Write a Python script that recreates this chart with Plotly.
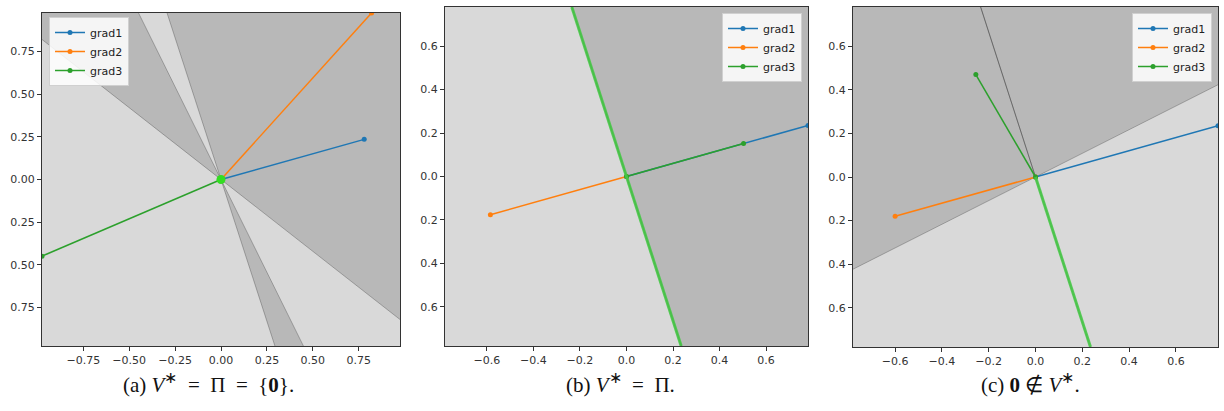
import plotly.graph_objects as go

# Gradient vectors drawn in each panel (x, y)
grad1_a = [0.78, 0.235]
grad2_a = [0.82, 0.975]
grad3_a = [-0.975, -0.449]

grad1_b = [0.78, 0.235]
grad2_b = [-0.585, -0.176]
grad3_b = [0.503, 0.152]

grad1_c = [0.78, 0.235]
grad2_c = [-0.6, -0.18]
grad3_c = [-0.255, 0.47]

# The set V* highlighted in each panel
vstar_a_x = [0.0]
vstar_a_y = [0.0]
vstar_b_x = [-0.235, 0.235]
vstar_b_y = [0.78, -0.78]
vstar_c_x = [0.0, 0.235]
vstar_c_y = [0.0, -0.78]

# Axis half-widths and tick labels
axis_lim = [0.975, 0.78, 0.78]
ticks_a = [-0.75, -0.5, -0.25, 0.0, 0.25, 0.5, 0.75]
xlabels_a = ["\u22120.75", "\u22120.50", "\u22120.25", "0.00", "0.25", "0.50", "0.75"]
ylabels_a = ["0.75", "0.50", "0.25", "0.00", "0.25", "0.50", "0.75"]
ticks_bc = [-0.6, -0.4, -0.2, 0.0, 0.2, 0.4, 0.6]
xlabels_bc = ["\u22120.6", "\u22120.4", "\u22120.2", "0.0", "0.2", "0.4", "0.6"]
ylabels_bc = ["0.6", "0.4", "0.2", "0.0", "0.2", "0.4", "0.6"]

STAR = "<sup><span style='font-size:16px'>\u2217</span></sup>"
EQ = "\u2002=\u2002"
captions = [
    "(a) <i>V</i>" + STAR + EQ + "\u03a0" + EQ + "{<b>0</b>}.",
    "(b) <i>V</i>" + STAR + EQ + "\u03a0.",
    "(c) <b>0</b> \u2209 <i>V</i>" + STAR + ".",
]

series_names = ["grad1", "grad2", "grad3"]
series_colors = ["#1f77b4", "#ff7f0e", "#2ca02c"]

W, H = 1224, 411
# pixel boxes of the three axes: (left, right, top, bottom)
boxes = [(42, 400, 13, 346), (445, 808, 7, 346), (853, 1218, 7, 347)]


def half_plane(g, box=3.0):
    """Polygon of {v : <g, v> >= 0} clipped to a square of half-width box."""
    corners = [(-box, -box), (box, -box), (box, box), (-box, box)]
    pts = []
    for i in range(4):
        p, q = corners[i], corners[(i + 1) % 4]
        dp = g[0] * p[0] + g[1] * p[1]
        dq = g[0] * q[0] + g[1] * q[1]
        if dp >= 0:
            pts.append(p)
        if (dp >= 0) != (dq >= 0):
            t = dp / (dp - dq)
            pts.append((p[0] + t * (q[0] - p[0]), p[1] + t * (q[1] - p[1])))
    pts.append(pts[0])
    return [p[0] for p in pts], [p[1] for p in pts]


panels = [
    ([grad1_a, grad2_a, grad3_a], (vstar_a_x, vstar_a_y)),
    ([grad1_b, grad2_b, grad3_b], (vstar_b_x, vstar_b_y)),
    ([grad1_c, grad2_c, grad3_c], (vstar_c_x, vstar_c_y)),
]
legend_ids = ["legend", "legend2", "legend3"]

fig = go.Figure()

for k, (grads, vstar) in enumerate(panels):
    xa = "x" if k == 0 else f"x{k + 1}"
    ya = "y" if k == 0 else f"y{k + 1}"
    # shaded half-planes, one per gradient
    for g in grads:
        px, py = half_plane(g)
        fig.add_trace(go.Scatter(
            x=px, y=py, mode="lines", fill="toself",
            fillcolor="rgba(0,0,0,0.15)",
            line=dict(color="rgba(40,40,40,0.3)", width=1),
            hoverinfo="skip", showlegend=False, xaxis=xa, yaxis=ya))
    # gradient segments from the origin
    for g, name, col in zip(grads, series_names, series_colors):
        fig.add_trace(go.Scatter(
            x=[0, g[0]], y=[0, g[1]], mode="lines+markers", name=name,
            line=dict(color=col, width=1.5),
            marker=dict(color=col, size=5),
            cliponaxis=True, legend=legend_ids[k], xaxis=xa, yaxis=ya))
    # V*
    vx, vy = vstar
    if len(vx) == 1:
        fig.add_trace(go.Scatter(
            x=vx, y=vy, mode="markers",
            marker=dict(color="#33dd22", size=9),
            showlegend=False, hoverinfo="skip", xaxis=xa, yaxis=ya))
    else:
        fig.add_trace(go.Scatter(
            x=vx, y=vy, mode="lines",
            line=dict(color="rgba(70,200,70,0.9)", width=3),
            showlegend=False, hoverinfo="skip", xaxis=xa, yaxis=ya))

tick_font = dict(family="DejaVu Sans", size=11, color="#333333")
layout = dict(
    width=W, height=H,
    margin=dict(l=0, r=0, t=0, b=0),
    paper_bgcolor="white", plot_bgcolor="white",
    showlegend=True,
)

for k in range(3):
    left, right, top, bottom = boxes[k]
    lim = axis_lim[k]
    if k == 0:
        tv, xl, yl = ticks_a, xlabels_a, ylabels_a[::-1]
    else:
        tv, xl, yl = ticks_bc, xlabels_bc, ylabels_bc[::-1]
    common = dict(
        range=[-lim, lim], tickmode="array", tickvals=tv,
        ticks="outside", ticklen=4, tickwidth=1, tickcolor="#333333",
        showline=True, linecolor="#333333", linewidth=1, mirror=True,
        showgrid=False, zeroline=False, automargin=False,
        tickfont=tick_font, fixedrange=True,
    )
    xkey = "xaxis" if k == 0 else f"xaxis{k + 1}"
    ykey = "yaxis" if k == 0 else f"yaxis{k + 1}"
    layout[xkey] = dict(common, ticktext=xl, domain=[left / W, right / W],
                        anchor="y" if k == 0 else f"y{k + 1}")
    layout[ykey] = dict(common, ticktext=yl, domain=[1 - bottom / H, 1 - top / H],
                        anchor="x" if k == 0 else f"x{k + 1}")

legend_style = dict(
    bgcolor="rgba(255,255,255,0.85)", bordercolor="#d0d0d0", borderwidth=1,
    font=dict(family="DejaVu Sans", size=11, color="#222222"),
    tracegroupgap=0, itemwidth=30,
)
layout["legend"] = dict(legend_style, x=49 / W, y=1 - 17 / H, xanchor="left", yanchor="top")
layout["legend2"] = dict(legend_style, x=802 / W, y=1 - 13 / H, xanchor="right", yanchor="top")
layout["legend3"] = dict(legend_style, x=1212 / W, y=1 - 13 / H, xanchor="right", yanchor="top")

caption_x = [208, 620, 1030]
annotations = []
for cx, text in zip(caption_x, captions):
    annotations.append(dict(
        x=cx / W, y=1 - 383 / H, xref="paper", yref="paper",
        text=text, showarrow=False, xanchor="center", yanchor="middle",
        font=dict(family="Liberation Serif", size=21, color="#111111")))
layout["annotations"] = annotations

fig.update_layout(**layout)
fig.write_html("out.html")
